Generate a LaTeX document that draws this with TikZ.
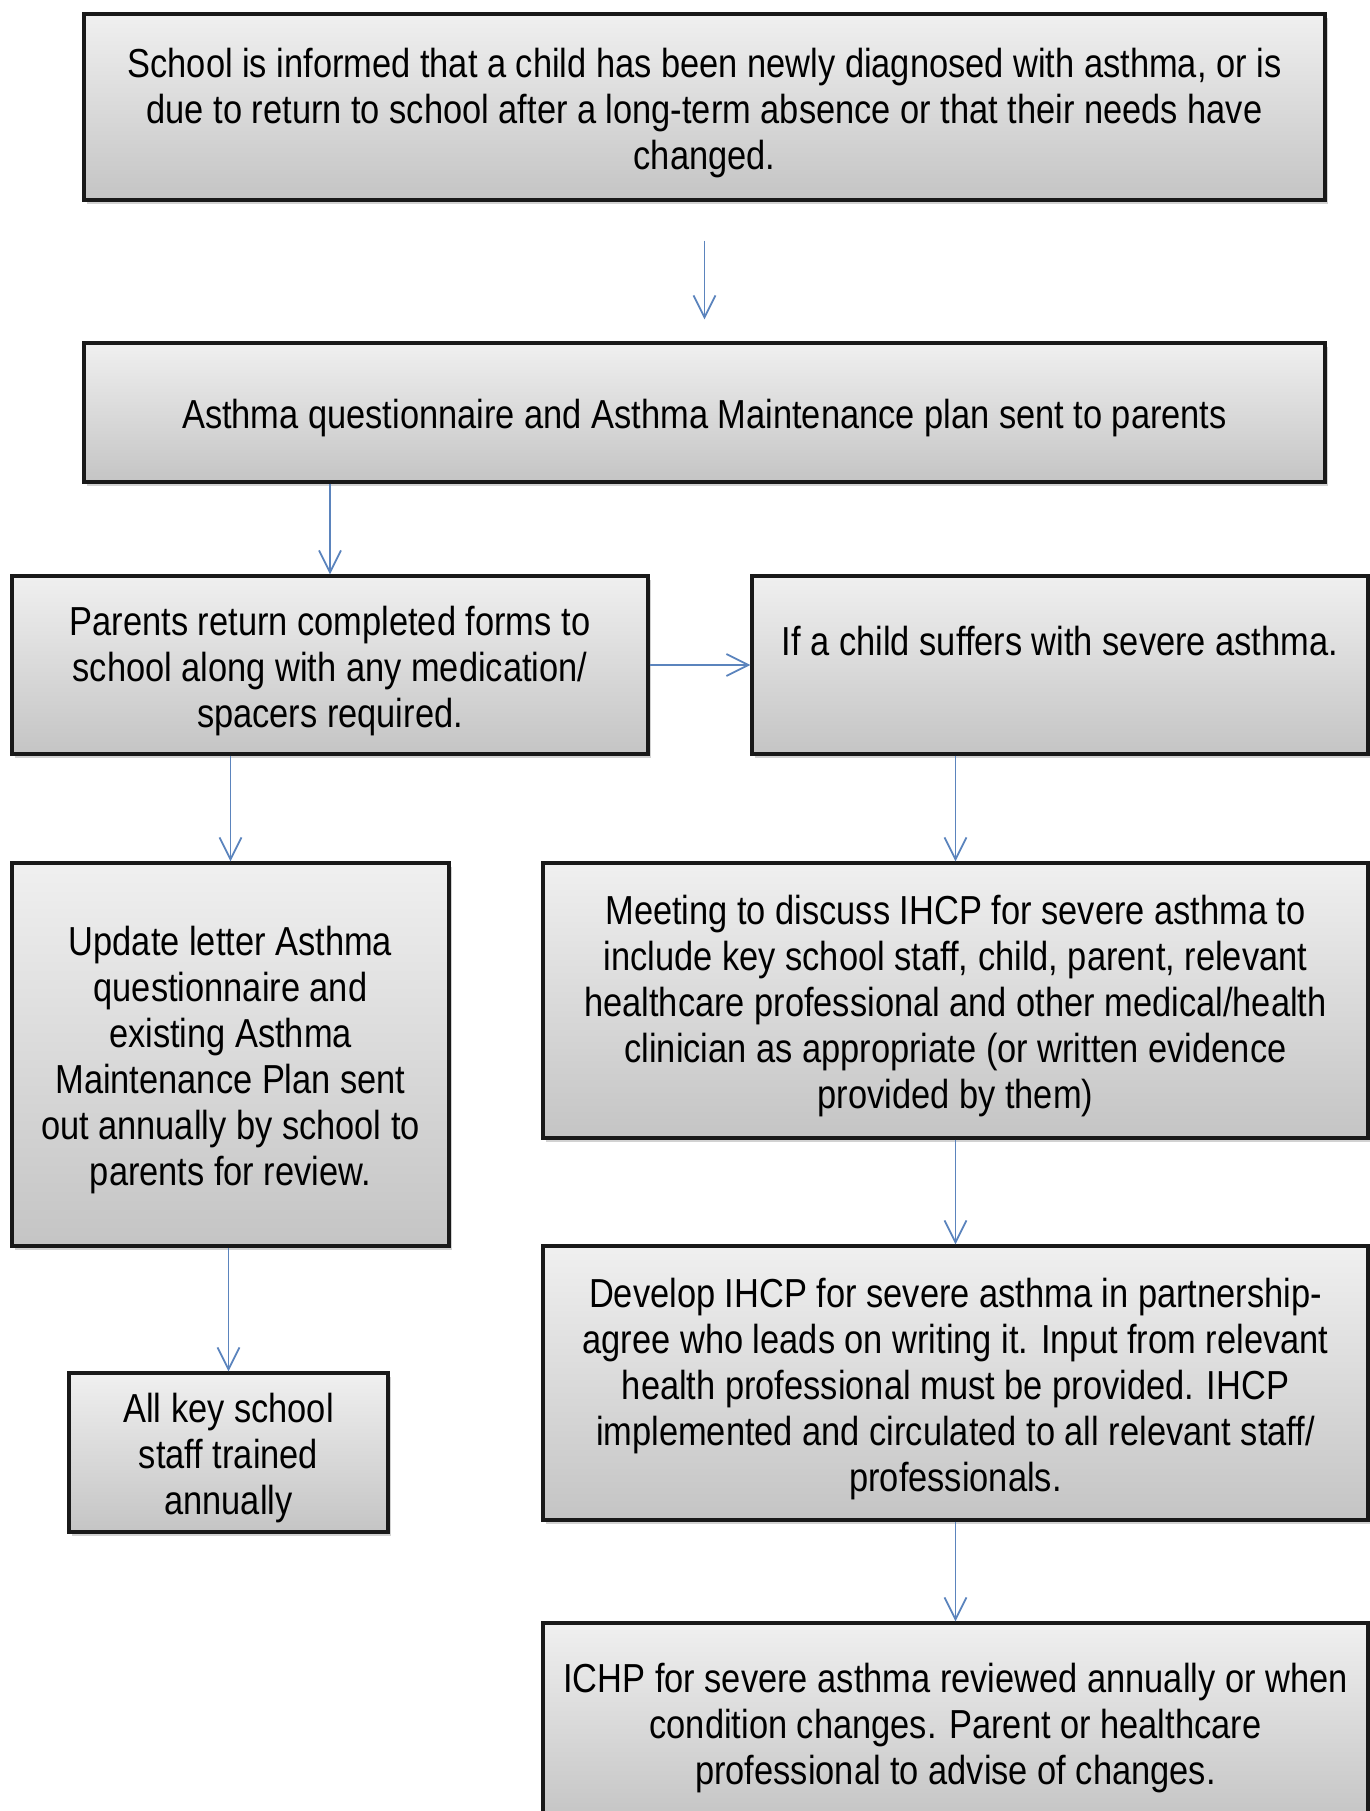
\documentclass[tikz,border=0pt]{standalone}
\usepackage{fontspec}
\setmainfont{Liberation Sans}[FakeStretch=0.85]
\usetikzlibrary{arrows.meta,shadows}
\definecolor{arrowblue}{RGB}{91,132,189}
\newcommand\topstr{\rule{0pt}{20.5pt}}
\begin{document}
\begin{tikzpicture}[x=0.5pt,y=-0.5pt,
  box/.style={draw=black!90, line width=1.6pt, top color=gray!12, bottom color=gray!46,
    drop shadow={opacity=0.35, shadow xshift=1.5pt, shadow yshift=-2pt},
    align=center, inner sep=0pt, font=\fontsize{20.25}{23}\selectfont},
  flow/.style={draw=arrowblue, line width=0.9pt, -{Straight Barb[length=11pt,width=11pt]}}]
\useasboundingbox (0,0) rectangle (1370,1811);
\fill[white] (0,0) rectangle (1370,1811);
\clip (0,0) rectangle (1370,1811);

\node[box, minimum width=620.5pt, minimum height=93pt] (b1) at (704.5,107)
  {\topstr School is informed that a child has been newly diagnosed with asthma, or is\\
   due to return to school after a long-term absence or that their needs have\\
   changed.};
\node[box, minimum width=620.5pt, minimum height=69.5pt] (b2) at (704.5,412.5)
  {\topstr Asthma questionnaire and Asthma Maintenance plan sent to parents};
\node[box, minimum width=318pt, minimum height=89pt] (b3) at (330,665)
  {\topstr Parents return completed forms to\\ school along with any medication/\\ spacers required.};
\node[box, minimum width=308pt, minimum height=89pt] (b4) at (1060,665)
  {\topstr If a child suffers with severe asthma.\\ \strut};
\node[box, minimum width=218.5pt, minimum height=191.5pt] (b5) at (230.5,1054.5)
  {\topstr Update letter Asthma\\ questionnaire and\\ existing Asthma\\ Maintenance Plan sent\\ out annually by school to\\ parents for review.};
\node[box, minimum width=412.5pt, minimum height=137.5pt] (b6) at (955.5,1000.5)
  {\topstr Meeting to discuss IHCP for severe asthma to\\ include key school staff, child, parent, relevant\\ healthcare professional and other medical/health\\ clinician as appropriate (or written evidence\\ provided by them)};
\node[box, minimum width=159.5pt, minimum height=79.5pt] (b7) at (228.5,1452.5)
  {\topstr All key school\\ staff trained\\ annually};
\node[box, minimum width=412.5pt, minimum height=137pt] (b8) at (955.5,1383)
  {\topstr Develop IHCP for severe asthma in partnership-\\ agree who leads on writing it. Input from relevant\\ health professional must be provided. IHCP\\ implemented and circulated to all relevant staff/\\ professionals.};
\node[box, minimum width=412.5pt, minimum height=99pt] (b9) at (955.5,1722)
  {\topstr ICHP for severe asthma reviewed annually or when\\ condition changes. Parent or healthcare\\ professional to advise of changes.};

\draw[flow, shorten <=19.5pt, shorten >=11pt] (b1.south) -- (b2.north);
\draw[flow] (b2.south -| b3.north) -- (b3.north);
\draw[flow] (b3.east) -- (b4.west);
\draw[flow] (b3.south -| b5.north) -- (b5.north);
\draw[flow] (b4.south -| b6.north) -- (b6.north);
\draw[flow] (b5.south -| b7.north) -- (b7.north);
\draw[flow] (b6.south) -- (b8.north);
\draw[flow] (b8.south) -- (b9.north);
\end{tikzpicture}
\end{document}
